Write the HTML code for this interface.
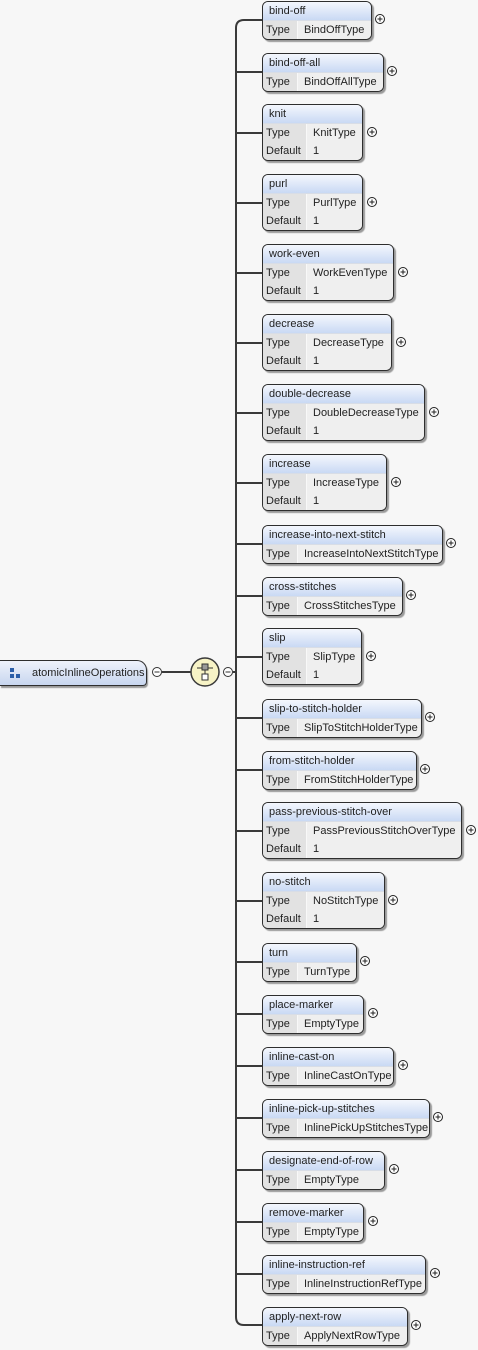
<!DOCTYPE html>
<html><head><meta charset="utf-8"><style>
html,body{margin:0;padding:0;background:#f7f7f7;}
body{width:478px;height:1350px;position:relative;overflow:hidden;font-family:"Liberation Sans",sans-serif;font-size:11px;color:#222;}
.b{position:absolute;left:262px;border:1px solid #2e2e2e;border-radius:6px;background:#efefef;box-shadow:2px 2px 1px #9a9a9a;overflow:hidden;}
.h{height:18px;line-height:18px;padding-left:6px;background:linear-gradient(#f4f7fd,#c9d9f4);border-bottom:1px solid #d8dde6;}
.r{height:18px;line-height:18px;display:flex;}
.r .l{width:31px;padding-left:3px;background:#e2e2e2;border-right:1px solid #f8f8f8;}
.r .v{padding-left:6px;background:#efefef;flex:1;white-space:nowrap;}
.t .l{width:40px;}
.root{position:absolute;left:0;top:660px;width:146px;height:24px;border:1px solid #2e2e2e;border-left:none;border-radius:0 10px 4px 0;background:linear-gradient(#eef2fb,#c8d6ef);box-shadow:1px 2px 1px #9a9a9a;line-height:24px;}
svg{position:absolute;left:0;top:0;}
</style></head><body>
<svg width="478" height="1350">
<g stroke="#3a3a3a" stroke-width="2" fill="none">
<path d="M262 20 H244 Q236 20 236 28 V1317 Q236 1325 244 1325 H262"/>
<line x1="236" y1="72" x2="262" y2="72"/>
<line x1="236" y1="133" x2="262" y2="133"/>
<line x1="236" y1="203" x2="262" y2="203"/>
<line x1="236" y1="273" x2="262" y2="273"/>
<line x1="236" y1="343" x2="262" y2="343"/>
<line x1="236" y1="413" x2="262" y2="413"/>
<line x1="236" y1="483" x2="262" y2="483"/>
<line x1="236" y1="544" x2="262" y2="544"/>
<line x1="236" y1="596" x2="262" y2="596"/>
<line x1="236" y1="657" x2="262" y2="657"/>
<line x1="236" y1="718" x2="262" y2="718"/>
<line x1="236" y1="770" x2="262" y2="770"/>
<line x1="236" y1="831" x2="262" y2="831"/>
<line x1="236" y1="901" x2="262" y2="901"/>
<line x1="236" y1="962" x2="262" y2="962"/>
<line x1="236" y1="1014" x2="262" y2="1014"/>
<line x1="236" y1="1066" x2="262" y2="1066"/>
<line x1="236" y1="1118" x2="262" y2="1118"/>
<line x1="236" y1="1170" x2="262" y2="1170"/>
<line x1="236" y1="1222" x2="262" y2="1222"/>
<line x1="236" y1="1274" x2="262" y2="1274"/>
<line x1="162" y1="672" x2="191" y2="672"/>
<line x1="233" y1="672" x2="236" y2="672"/>
</g>
<circle cx="205" cy="672" r="14" fill="#f7f3c6" stroke="#3a3a3a" stroke-width="1.5"/>
<g stroke="#333" stroke-width="1" fill="none">
<line x1="197" y1="668" x2="213" y2="668"/>
<rect x="202" y="664" width="6" height="6" fill="#999"/>
<rect x="202" y="674" width="6" height="6" fill="#fff"/>
<line x1="205" y1="670" x2="205" y2="674"/>
<circle cx="157" cy="672" r="4.5" fill="#fff"/><line x1="154.5" y1="672" x2="159.5" y2="672"/>
<circle cx="228" cy="672" r="4.5" fill="#fff"/><line x1="225.5" y1="672" x2="230.5" y2="672"/>
</g>
<g stroke="#222" stroke-width="1" fill="#fff">
<g transform="translate(380,19)"><circle r="4.5"/><path d="M-2.5 0H2.5M0 -2.5V2.5"/></g>
<g transform="translate(392,71)"><circle r="4.5"/><path d="M-2.5 0H2.5M0 -2.5V2.5"/></g>
<g transform="translate(372,132)"><circle r="4.5"/><path d="M-2.5 0H2.5M0 -2.5V2.5"/></g>
<g transform="translate(372,202)"><circle r="4.5"/><path d="M-2.5 0H2.5M0 -2.5V2.5"/></g>
<g transform="translate(403,272)"><circle r="4.5"/><path d="M-2.5 0H2.5M0 -2.5V2.5"/></g>
<g transform="translate(401,342)"><circle r="4.5"/><path d="M-2.5 0H2.5M0 -2.5V2.5"/></g>
<g transform="translate(434,412)"><circle r="4.5"/><path d="M-2.5 0H2.5M0 -2.5V2.5"/></g>
<g transform="translate(396,482)"><circle r="4.5"/><path d="M-2.5 0H2.5M0 -2.5V2.5"/></g>
<g transform="translate(451,543)"><circle r="4.5"/><path d="M-2.5 0H2.5M0 -2.5V2.5"/></g>
<g transform="translate(411,595)"><circle r="4.5"/><path d="M-2.5 0H2.5M0 -2.5V2.5"/></g>
<g transform="translate(371,656)"><circle r="4.5"/><path d="M-2.5 0H2.5M0 -2.5V2.5"/></g>
<g transform="translate(430,717)"><circle r="4.5"/><path d="M-2.5 0H2.5M0 -2.5V2.5"/></g>
<g transform="translate(425,769)"><circle r="4.5"/><path d="M-2.5 0H2.5M0 -2.5V2.5"/></g>
<g transform="translate(471,830)"><circle r="4.5"/><path d="M-2.5 0H2.5M0 -2.5V2.5"/></g>
<g transform="translate(393,900)"><circle r="4.5"/><path d="M-2.5 0H2.5M0 -2.5V2.5"/></g>
<g transform="translate(365,961)"><circle r="4.5"/><path d="M-2.5 0H2.5M0 -2.5V2.5"/></g>
<g transform="translate(373,1013)"><circle r="4.5"/><path d="M-2.5 0H2.5M0 -2.5V2.5"/></g>
<g transform="translate(403,1065)"><circle r="4.5"/><path d="M-2.5 0H2.5M0 -2.5V2.5"/></g>
<g transform="translate(438,1117)"><circle r="4.5"/><path d="M-2.5 0H2.5M0 -2.5V2.5"/></g>
<g transform="translate(394,1169)"><circle r="4.5"/><path d="M-2.5 0H2.5M0 -2.5V2.5"/></g>
<g transform="translate(373,1221)"><circle r="4.5"/><path d="M-2.5 0H2.5M0 -2.5V2.5"/></g>
<g transform="translate(435,1273)"><circle r="4.5"/><path d="M-2.5 0H2.5M0 -2.5V2.5"/></g>
<g transform="translate(416,1325)"><circle r="4.5"/><path d="M-2.5 0H2.5M0 -2.5V2.5"/></g>
</g>
</svg>

<div class="root"><span style="position:absolute;left:10px;top:7px;width:4px;height:4px;background:#2b5ea8"></span><span style="position:absolute;left:10px;top:13px;width:4px;height:4px;background:#2b5ea8"></span><span style="position:absolute;left:16px;top:13px;width:4px;height:4px;background:#2b5ea8"></span><span style="position:absolute;left:32px;">atomicInlineOperations</span></div>

<div class="b" style="top:1px;width:108px"><div class="h">bind-off</div><div class="r"><div class="l">Type</div><div class="v">BindOffType</div></div></div>
<div class="b" style="top:53px;width:120px"><div class="h">bind-off-all</div><div class="r"><div class="l">Type</div><div class="v">BindOffAllType</div></div></div>
<div class="b t" style="top:104px;width:99px"><div class="h">knit</div><div class="r"><div class="l">Type</div><div class="v">KnitType</div></div><div class="r"><div class="l">Default</div><div class="v">1</div></div></div>
<div class="b t" style="top:174px;width:99px"><div class="h">purl</div><div class="r"><div class="l">Type</div><div class="v">PurlType</div></div><div class="r"><div class="l">Default</div><div class="v">1</div></div></div>
<div class="b t" style="top:244px;width:130px"><div class="h">work-even</div><div class="r"><div class="l">Type</div><div class="v">WorkEvenType</div></div><div class="r"><div class="l">Default</div><div class="v">1</div></div></div>
<div class="b t" style="top:314px;width:128px"><div class="h">decrease</div><div class="r"><div class="l">Type</div><div class="v">DecreaseType</div></div><div class="r"><div class="l">Default</div><div class="v">1</div></div></div>
<div class="b t" style="top:384px;width:161px"><div class="h">double-decrease</div><div class="r"><div class="l">Type</div><div class="v">DoubleDecreaseType</div></div><div class="r"><div class="l">Default</div><div class="v">1</div></div></div>
<div class="b t" style="top:454px;width:123px"><div class="h">increase</div><div class="r"><div class="l">Type</div><div class="v">IncreaseType</div></div><div class="r"><div class="l">Default</div><div class="v">1</div></div></div>
<div class="b" style="top:525px;width:179px"><div class="h">increase-into-next-stitch</div><div class="r"><div class="l">Type</div><div class="v">IncreaseIntoNextStitchType</div></div></div>
<div class="b" style="top:577px;width:139px"><div class="h">cross-stitches</div><div class="r"><div class="l">Type</div><div class="v">CrossStitchesType</div></div></div>
<div class="b t" style="top:628px;width:98px"><div class="h">slip</div><div class="r"><div class="l">Type</div><div class="v">SlipType</div></div><div class="r"><div class="l">Default</div><div class="v">1</div></div></div>
<div class="b" style="top:699px;width:158px"><div class="h">slip-to-stitch-holder</div><div class="r"><div class="l">Type</div><div class="v">SlipToStitchHolderType</div></div></div>
<div class="b" style="top:751px;width:153px"><div class="h">from-stitch-holder</div><div class="r"><div class="l">Type</div><div class="v">FromStitchHolderType</div></div></div>
<div class="b t" style="top:802px;width:198px"><div class="h">pass-previous-stitch-over</div><div class="r"><div class="l">Type</div><div class="v">PassPreviousStitchOverType</div></div><div class="r"><div class="l">Default</div><div class="v">1</div></div></div>
<div class="b t" style="top:872px;width:121px"><div class="h">no-stitch</div><div class="r"><div class="l">Type</div><div class="v">NoStitchType</div></div><div class="r"><div class="l">Default</div><div class="v">1</div></div></div>
<div class="b" style="top:943px;width:93px"><div class="h">turn</div><div class="r"><div class="l">Type</div><div class="v">TurnType</div></div></div>
<div class="b" style="top:995px;width:100px"><div class="h">place-marker</div><div class="r"><div class="l">Type</div><div class="v">EmptyType</div></div></div>
<div class="b" style="top:1047px;width:130px"><div class="h">inline-cast-on</div><div class="r"><div class="l">Type</div><div class="v">InlineCastOnType</div></div></div>
<div class="b" style="top:1099px;width:166px"><div class="h">inline-pick-up-stitches</div><div class="r"><div class="l">Type</div><div class="v">InlinePickUpStitchesType</div></div></div>
<div class="b" style="top:1151px;width:121px"><div class="h">designate-end-of-row</div><div class="r"><div class="l">Type</div><div class="v">EmptyType</div></div></div>
<div class="b" style="top:1203px;width:100px"><div class="h">remove-marker</div><div class="r"><div class="l">Type</div><div class="v">EmptyType</div></div></div>
<div class="b" style="top:1255px;width:162px"><div class="h">inline-instruction-ref</div><div class="r"><div class="l">Type</div><div class="v">InlineInstructionRefType</div></div></div>
<div class="b" style="top:1307px;width:144px"><div class="h">apply-next-row</div><div class="r"><div class="l">Type</div><div class="v">ApplyNextRowType</div></div></div>
</body></html>
